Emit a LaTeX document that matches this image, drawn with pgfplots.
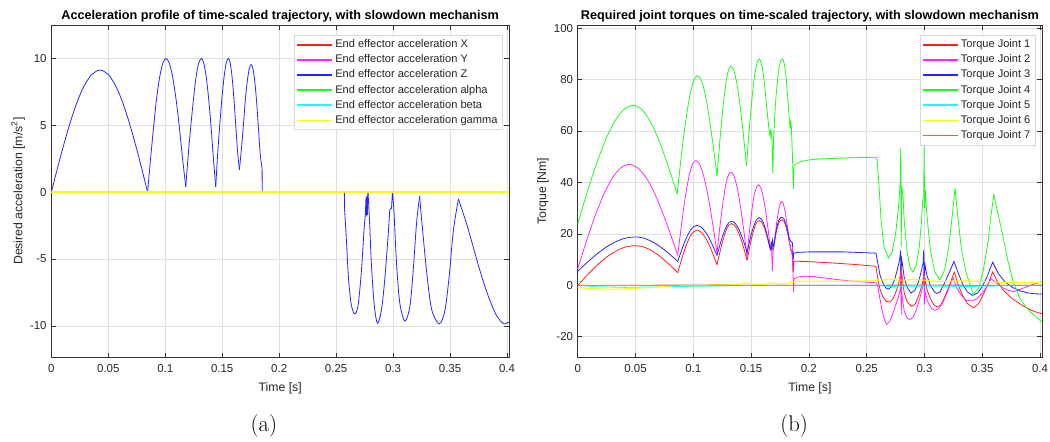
\documentclass[border=0pt]{standalone}
\usepackage{fontspec}
\usepackage{pgfplots}
\pgfplotsset{compat=1.18}
\newfontfamily\arial{Liberation Sans}
\definecolor{mred}{rgb}{1,0.12,0.12}
\definecolor{mmag}{rgb}{1,0.15,1}
\definecolor{mblue}{rgb}{0.15,0.15,1}
\definecolor{mgreen}{rgb}{0.1,1,0.1}
\definecolor{mcyan}{rgb}{0.1,1,1}
\definecolor{myellow}{rgb}{1,1,0}
\definecolor{mbrown}{rgb}{0.8,0.42,0.28}
\pgfplotsset{
  mstyle/.style={
    scale only axis,
    grid=major,
    grid style={black!12, line width=0.4pt},
    axis line style={black!80, line width=0.5pt},
    tick style={black!80, line width=0.5pt},
    major tick length=3.5pt,
    tick label style={font=\arial\fontsize{8.6}{10}\selectfont, text=black!85},
    label style={font=\arial\fontsize{9.2}{11}\selectfont, text=black!85},
    ylabel style={yshift=-3pt},
    title style={font=\arial\bfseries\fontsize{9.5}{11}\selectfont, yshift=-7pt},
    xtick={0,0.05,0.1,0.15,0.2,0.25,0.3,0.35,0.4},
    xticklabels={0,0.05,0.1,0.15,0.2,0.25,0.3,0.35,0.4},
    xticklabel style={yshift=-2pt},
    xlabel style={yshift=-0.5pt},
    legend style={at={(1,1)}, anchor=north east, xshift=-5pt, yshift=-7.5pt,
      draw=black!15, fill=white, inner sep=1.5pt,
      font=\arial\fontsize{8.3}{10}\selectfont, text=black!85,
      nodes={inner ysep=1.4pt, text height=6.5pt, text depth=2pt}},
    legend cell align=left,
    legend image code/.code={\draw[#1, line width=1pt] (0pt,0pt) -- (26pt,0pt);},
    every axis plot/.append style={line width=0.6pt},
  }
}
\begin{document}
\begin{tikzpicture}
\useasboundingbox (0,0) rectangle (787.5pt,331.5pt);
\begin{axis}[mstyle,
  at={(38.5pt,63.5pt)}, anchor=south west,
  width=343.3pt, height=249.2pt,
  xmin=0, xmax=0.4018, ymin=-12.35, ymax=12.5,
  ytick={-10,-5,0,5,10}, yticklabels={-10,-5,0,5,10},
  title={Acceleration profile of time-scaled trajectory, with slowdown mechanism},
  xlabel={Time [s]},
  ylabel={Desired acceleration [m/s\textsuperscript{2}]},
]
\addplot[mred] coordinates {(0,0) (0.4018,0)};
\addlegendentry{End effector acceleration X}
\addplot[mmag] coordinates {(0,0) (0.4018,0)};
\addlegendentry{End effector acceleration Y}
\addplot[mblue, smooth] coordinates {
(0,0) (0.0071,2.36) (0.0143,4.57) (0.0214,6.46) (0.0285,7.91) (0.0357,8.82) (0.0428,9.13) (0.0498,8.82) (0.0567,7.91) (0.0637,6.46) (0.0706,4.57) (0.0776,2.36) (0.0845,0)};
\addlegendentry{End effector acceleration Z}
\addplot[mblue, smooth, forget plot] coordinates {
(0.0845,0) (0.0872,2.59) (0.0899,5) (0.0925,7.07) (0.0952,8.66) (0.0979,9.66) (0.1006,10) (0.1035,9.66) (0.1064,8.66) (0.1093,7.07) (0.1122,5) (0.1151,2.59) (0.118,0.4)};
\addplot[mblue, smooth, forget plot] coordinates {
(0.118,0.4) (0.1203,2.9) (0.1226,5.1) (0.1249,7.07) (0.1271,8.66) (0.1294,9.66) (0.1317,10) (0.1338,9.66) (0.1359,8.66) (0.138,7.07) (0.1401,5) (0.1422,2.6) (0.1443,0.4)};
\addplot[mblue, smooth, forget plot] coordinates {
(0.1443,0.4) (0.1461,3) (0.148,5.2) (0.1498,7.1) (0.1517,8.66) (0.1535,9.66) (0.1554,10) (0.157,9.66) (0.1586,8.66) (0.1602,7.07) (0.1619,5) (0.1635,3) (0.1651,1.67)};
\addplot[mblue, smooth, forget plot] coordinates {
(0.1651,1.67) (0.1668,3.2) (0.1685,4.9) (0.1702,6.8) (0.172,8.3) (0.1737,9.22) (0.1754,9.55) (0.177,9.22) (0.1786,8.27) (0.1802,6.75) (0.1818,4.78) (0.1834,2.8) (0.185,1.8)};
\addplot[mblue, forget plot] coordinates {(0.185,1.8) (0.1851,0) (0.2572,0) (0.2574,-1.3)};
\addplot[mblue, smooth, forget plot] coordinates {
(0.2574,-1.3) (0.2589,-3.4) (0.2609,-6.5) (0.2633,-8.4) (0.2662,-9.1) (0.2692,-8.5) (0.2721,-6.0) (0.2745,-2.8) (0.2756,-1.7)};
\addplot[mblue, forget plot] coordinates {
(0.2756,-1.7) (0.2762,-0.4) (0.2766,-1.8) (0.2770,-0.3) (0.2774,-1.7) (0.2778,-0.2) (0.278,0)};
\addplot[mblue, smooth, forget plot] coordinates {
(0.278,0) (0.2795,-2.5) (0.2809,-5.3) (0.2833,-8.3) (0.2862,-9.8) (0.2898,-8.8) (0.2927,-6.5) (0.2956,-3.3) (0.2971,-1.3)};
\addplot[mblue, forget plot] coordinates {(0.2971,-1.3) (0.2986,-1.2) (0.2995,0.1) (0.3009,-1.6)};
\addplot[mblue, smooth, forget plot] coordinates {
(0.3009,-1.6) (0.303,-5.3) (0.3059,-8.3) (0.3104,-9.65) (0.3148,-8.5) (0.3177,-5.8) (0.3206,-2.3) (0.3233,-0.3)};
\addplot[mblue, smooth, forget plot] coordinates {
(0.3233,-0.3) (0.3251,-2.1) (0.3295,-6) (0.3339,-8.8) (0.3406,-9.85) (0.3456,-8.8) (0.3492,-6.3) (0.353,-2.8) (0.3574,-0.5)};
\addplot[mblue, smooth, forget plot] coordinates {
(0.3574,-0.5) (0.36,-1.2) (0.365,-2.5) (0.37,-4.0) (0.375,-5.5) (0.38,-6.9) (0.385,-8.1) (0.39,-9.1) (0.395,-9.7) (0.398,-9.85) (0.4018,-9.7)};
\addplot[mgreen] coordinates {(0,0) (0.4018,0)};
\addlegendentry{End effector acceleration alpha}
\addplot[mcyan] coordinates {(0,0) (0.4018,0)};
\addlegendentry{End effector acceleration beta}
\addplot[myellow, line width=1.1pt] coordinates {(0,0) (0.4018,0)};
\addlegendentry{End effector acceleration gamma}
\end{axis}
\node[font=\fontsize{17}{20}\selectfont] at (197.9pt,12.2pt) {(a)};
\begin{axis}[mstyle,
  at={(433.3pt,63.5pt)}, anchor=south west,
  width=348.2pt, height=249.2pt,
  xmin=0, xmax=0.4017, ymin=-28, ymax=101.2,
  ytick={-20,0,20,40,60,80,100}, yticklabels={-20,0,20,40,60,80,100},
  title={Required joint torques on time-scaled trajectory, with slowdown mechanism},
  xlabel={Time [s]},
  ylabel={Torque [Nm]},
]
% ---- Joint 1
\addplot[mred, smooth] coordinates {
(0,0) (0.0083,4) (0.0165,7.7) (0.0248,10.9) (0.0331,13.3) (0.0413,14.9) (0.0496,15.4)
(0.0558,15.05) (0.0619,14) (0.0681,12.3) (0.0742,10.15) (0.0804,7.6) (0.0865,4.9)};
\addlegendentry{Torque Joint 1}
\addplot[mred, smooth, forget plot] coordinates {
(0.0865,4.9) (0.0893,9.2) (0.092,13.15) (0.0948,16.6) (0.0975,19.2) (0.1003,20.8) (0.103,21.4)
(0.1059,20.95) (0.1088,19.6) (0.1118,17.5) (0.1147,14.7) (0.1176,11.5) (0.1205,8)};
\addplot[mred, smooth, forget plot] coordinates {
(0.1205,8) (0.1226,12.1) (0.1247,16) (0.1268,19.3) (0.1288,21.9) (0.1309,23.45) (0.133,24)
(0.1353,23.5) (0.1375,22.1) (0.1398,19.8) (0.142,16.85) (0.1443,13.4) (0.1465,9.7)};
\addplot[mred, smooth, forget plot] coordinates {
(0.1465,9.7) (0.1483,13.7) (0.15,17.45) (0.1518,20.7) (0.1535,23.1) (0.1553,24.7) (0.157,25.2)
(0.159,24.6) (0.1609,23) (0.1629,20.4) (0.1648,17.1) (0.1668,13.5)};
\addplot[mred, forget plot] coordinates {(0.1668,13.5) (0.1675,16) (0.168,14) (0.1695,14.5)};
\addplot[mred, smooth, forget plot] coordinates {
(0.1695,14.5) (0.171,18.8) (0.1725,22.2) (0.174,24.3) (0.1755,25.3) (0.177,25.5) (0.1785,24.8) (0.18,23) (0.1815,20.3) (0.183,17) (0.1845,14)};
\addplot[mred, forget plot] coordinates {
(0.1845,14) (0.1858,13) (0.1865,5) (0.187,9.4)
(0.2,9.2) (0.22,8.7) (0.24,8.1) (0.258,7.4)
(0.2595,3) (0.2615,-1.5) (0.264,-4.5) (0.267,-6.2) (0.2696,-6.5) (0.2725,-5.5) (0.275,-3) (0.2775,0.5) (0.279,3.5) (0.2795,8) (0.2799,-3) (0.2803,5) (0.281,2) (0.2825,-3) (0.285,-6.5) (0.289,-8.2)
(0.292,-7.2) (0.295,-4) (0.2975,-0.5) (0.299,2.5) (0.2995,5.5) (0.2999,-3) (0.3005,3) (0.302,-1.5) (0.305,-5) (0.308,-7.5) (0.311,-8.4) (0.314,-7.8) (0.318,-4) (0.322,0.5) (0.3258,5.2)
(0.329,0.5) (0.333,-4) (0.337,-7) (0.3425,-8.8) (0.347,-7) (0.351,-3.5) (0.355,0.5) (0.359,5.2) (0.363,1.5) (0.368,-1.8) (0.376,-5.2) (0.386,-8.2) (0.395,-10.2) (0.4017,-11)};
% ---- Joint 2
\addplot[mmag, smooth] coordinates {
(0,6.5) (0.0074,17) (0.0148,26.75) (0.0223,35.1) (0.0297,41.6) (0.0371,45.6) (0.0445,47)
(0.0515,45.8) (0.0585,42.3) (0.0655,36.7) (0.0725,29.35) (0.0795,20.8) (0.0865,11.7)};
\addlegendentry{Torque Joint 2}
\addplot[mmag, smooth, forget plot] coordinates {
(0.0865,11.7) (0.0891,21.2) (0.0917,30.1) (0.0943,37.7) (0.0969,43.6) (0.0995,47.2) (0.1021,48.5)
(0.1052,47.3) (0.1082,43.7) (0.1113,38) (0.1144,30.6) (0.1174,22) (0.1205,12.7)};
\addplot[mmag, smooth, forget plot] coordinates {
(0.1205,12.7) (0.1225,20.8) (0.1245,28.35) (0.1265,34.8) (0.1284,39.8) (0.1304,42.9) (0.1324,44)
(0.1348,42.9) (0.1371,39.6) (0.1395,34.3) (0.1418,27.5) (0.1442,19.5) (0.1465,11)};
\addplot[mmag, smooth, forget plot] coordinates {
(0.1465,11) (0.1479,18.3) (0.1496,25) (0.1512,30.9) (0.1528,35.3) (0.1547,38.1) (0.1563,39.1)
(0.1584,37.9) (0.1605,34.3) (0.1626,28.8) (0.1647,21.8) (0.1668,14)};
\addplot[mmag, forget plot] coordinates {(0.1668,14) (0.1678,13) (0.1685,5.5) (0.169,13) (0.1695,14.5)};
\addplot[mmag, smooth, forget plot] coordinates {
(0.1695,14.5) (0.171,20) (0.1725,25.5) (0.174,29.5) (0.1752,31.8) (0.1765,32.6) (0.178,31.5) (0.1795,28.5) (0.181,24) (0.1825,19) (0.184,14)};
\addplot[mmag, forget plot] coordinates {
(0.184,14) (0.1855,12) (0.1862,5) (0.1868,-2.6) (0.1872,2.5)
(0.19,3.2) (0.196,3.6) (0.205,3.3) (0.215,2.8) (0.225,2.2) (0.24,1.5) (0.258,1.0)
(0.2595,0) (0.261,-4) (0.263,-9) (0.265,-13) (0.2673,-15.2) (0.27,-14) (0.273,-10.5) (0.276,-6.5) (0.278,-3.5) (0.2792,-1) (0.2796,6) (0.2799,-11.7) (0.2803,-2) (0.2808,-5) (0.2825,-10) (0.285,-12.8) (0.2875,-13.3)
(0.29,-12.5) (0.293,-9.5) (0.296,-5) (0.298,-1.5) (0.2993,1) (0.2996,7) (0.2999,-7.5) (0.3003,-2) (0.301,-3.5) (0.303,-6.5) (0.306,-9) (0.3092,-9.7) (0.3125,-9) (0.316,-6.5) (0.32,-2.5) (0.3247,3)
(0.328,-1) (0.332,-4) (0.336,-5.8) (0.341,-6.1) (0.346,-5) (0.35,-3) (0.354,-0.5) (0.3576,2.6) (0.362,1) (0.367,-0.8) (0.372,-1.8) (0.377,-2.5) (0.383,-1.5) (0.39,-0.3) (0.396,0.7) (0.4017,1.3)};
% ---- Joint 3
\addplot[mblue, smooth] coordinates {
(0,5.5) (0.0083,8.95) (0.0165,12.15) (0.0248,14.9) (0.0331,17) (0.0413,18.35) (0.0496,18.8)
(0.0558,18.5) (0.0619,17.5) (0.0681,16) (0.0742,14.05) (0.0804,11.75) (0.0865,9.3)};
\addlegendentry{Torque Joint 3}
\addplot[mblue, smooth, forget plot] coordinates {
(0.0865,9.3) (0.0893,12.9) (0.092,16.3) (0.0948,19.2) (0.0975,21.4) (0.1003,22.8) (0.103,23.3)
(0.1059,22.9) (0.1088,21.7) (0.1118,19.9) (0.1147,17.45) (0.1176,14.6) (0.1205,11.6)};
\addplot[mblue, smooth, forget plot] coordinates {
(0.1205,11.6) (0.1226,15.05) (0.1247,18.25) (0.1268,21) (0.1288,23.1) (0.1309,24.45) (0.133,24.9)
(0.1353,24.5) (0.1375,23.3) (0.1398,21.4) (0.142,18.9) (0.1443,16) (0.1465,12.9)};
\addplot[mblue, smooth, forget plot] coordinates {
(0.1465,12.9) (0.1483,16.4) (0.15,19.6) (0.1518,22.4) (0.1535,24.5) (0.1553,25.8) (0.157,26.3)
(0.159,25.7) (0.1609,24) (0.1629,21.2) (0.1648,17.8) (0.1668,14)};
\addplot[mblue, forget plot] coordinates {(0.1668,14) (0.1675,17) (0.168,13.5) (0.1686,17.5) (0.1695,15)};
\addplot[mblue, smooth, forget plot] coordinates {
(0.1695,15) (0.171,19.5) (0.1725,23) (0.174,25.3) (0.1755,26.3) (0.177,26.5) (0.1785,25.8) (0.18,24) (0.1815,21.5) (0.183,18.5) (0.1845,17)};
\addplot[mblue, forget plot] coordinates {
(0.1845,17) (0.1858,16.5) (0.1865,10) (0.187,12.5)
(0.19,12.8) (0.2,13) (0.23,13) (0.258,12.5)
(0.2595,9) (0.2615,4) (0.264,1) (0.2665,-1) (0.2688,-1.5) (0.2715,-0.5) (0.274,2) (0.2765,6) (0.2785,10) (0.2793,13.6) (0.2797,5) (0.2803,10) (0.281,8) (0.2825,3) (0.285,-0.8) (0.2884,-3)
(0.292,-1.8) (0.295,1.5) (0.2975,6) (0.2988,8.5) (0.2994,13.9) (0.2998,4) (0.3005,8) (0.302,4) (0.305,0) (0.3085,-2.5) (0.3106,-3.2) (0.3135,-2.5) (0.317,0.5) (0.3215,5) (0.3255,9.3)
(0.329,5) (0.333,0.5) (0.337,-2.5) (0.3415,-3.9) (0.346,-3) (0.35,-0.5) (0.354,3.2) (0.359,9) (0.364,4.5) (0.37,1.2) (0.376,-0.8) (0.383,-2.2) (0.39,-3.0) (0.396,-3.3) (0.4017,-3.4)};
% ---- Joint 4
\addplot[mgreen, smooth] coordinates {
(0,24) (0.008,35.9) (0.016,47) (0.024,56.5) (0.032,63.8) (0.040,68.4) (0.048,70)
(0.056,68.1) (0.064,62.7) (0.072,54.3) (0.080,44) (0.086,35.5)};
\addlegendentry{Torque Joint 4}
\addplot[mgreen, smooth, forget plot] coordinates {
(0.086,35.5) (0.0889,47.4) (0.0918,58.5) (0.0948,68.0) (0.0977,75.3) (0.1006,79.9) (0.1035,81.5)
(0.1063,80.2) (0.1092,76.3) (0.112,70.1) (0.1148,62) (0.1177,52.6) (0.1205,42.5)};
\addplot[mgreen, smooth, forget plot] coordinates {
(0.1205,42.5) (0.1225,53.6) (0.1245,63.85) (0.1265,72.7) (0.1285,79.5) (0.1305,83.7) (0.1325,85.2)
(0.1348,83.9) (0.137,80) (0.1393,73.9) (0.1415,65.9) (0.1438,56.5) (0.146,46.5)};
\addplot[mgreen, smooth, forget plot] coordinates {
(0.146,46.5) (0.1478,57.2) (0.1497,67.3) (0.1515,75.8) (0.1533,82.4) (0.1552,86.6) (0.157,88)
(0.1587,86.6) (0.1604,82.5) (0.1621,76) (0.1638,68) (0.1655,60.5)};
\addplot[mgreen, forget plot] coordinates {(0.1655,60.5) (0.1665,58) (0.1672,61) (0.1682,55) (0.1688,43.5) (0.1695,58)};
\addplot[mgreen, smooth, forget plot] coordinates {
(0.1695,58) (0.171,70) (0.1725,78) (0.174,84) (0.1755,87.2) (0.177,88) (0.1785,86.5) (0.18,82) (0.1815,74) (0.183,65) (0.1838,61)};
\addplot[mgreen, forget plot] coordinates {(0.1838,61) (0.1842,64) (0.1848,62) (0.1858,50) (0.1866,37.5) (0.1872,46.5)};
\addplot[mgreen, smooth, forget plot] coordinates {(0.1872,46.5) (0.19,47.5) (0.195,48.3) (0.205,49) (0.23,49.5) (0.258,49.8)};
\addplot[mgreen, forget plot] coordinates {
(0.258,49.8) (0.259,49) (0.2605,40) (0.2625,25) (0.265,15) (0.2688,10.6) (0.272,13) (0.275,20) (0.2775,30) (0.279,40) (0.2795,53.5) (0.2799,15) (0.2803,38) (0.2812,37) (0.2825,25) (0.285,13) (0.2875,7) (0.29,5.2)
(0.293,8) (0.2955,15) (0.2975,25) (0.2985,33.5) (0.2993,34) (0.2997,54) (0.3001,30) (0.3007,37) (0.302,28) (0.305,14) (0.309,5) (0.3135,2.2)
(0.3175,6) (0.321,15) (0.324,27) (0.3265,37.8) (0.329,26) (0.332,14) (0.336,5) (0.3423,-3.6) (0.347,-1) (0.351,6) (0.355,17) (0.3575,27) (0.36,35.2)
(0.3635,28) (0.367,21) (0.372,10) (0.377,1) (0.382,-4.5) (0.387,-8) (0.392,-10.5) (0.397,-12.5) (0.4017,-14.2)};
% ---- Joint 5
\addplot[mcyan] coordinates {
(0,0) (0.015,-0.5) (0.04,-0.8) (0.07,-0.6) (0.1,-0.4) (0.13,-0.2) (0.16,0) (0.186,0) (0.26,0) (0.27,-0.5) (0.3,-0.6) (0.33,-0.5) (0.36,-0.3) (0.38,0) (0.4017,0)};
\addlegendentry{Torque Joint 5}
% ---- Joint 6
\addplot[myellow, line width=0.8pt] coordinates {
(0,-0.9) (0.01,-1.2) (0.02,-1.4) (0.03,-1.5) (0.045,-1.3) (0.06,-0.9) (0.075,-0.4) (0.086,0) (0.1,-0.2) (0.115,0.1) (0.12,0.6) (0.125,0.1) (0.14,0.3) (0.146,1) (0.152,0.3) (0.162,0.4) (0.168,1) (0.174,0.5) (0.18,0.6) (0.186,1.2)
(0.19,1.6) (0.22,1.6) (0.255,1.7) (0.265,2.2) (0.272,2.5) (0.28,2.0) (0.29,2.3) (0.30,2.0) (0.31,1.5) (0.32,1.6) (0.335,1.8) (0.35,1.5) (0.37,1.1) (0.385,1.0) (0.4017,1.0)};
\addlegendentry{Torque Joint 6}
% ---- Joint 7
\addplot[mbrown] coordinates {(0,0) (0.1,0.1) (0.2,0) (0.3,0.1) (0.4017,0)};
\addlegendentry{Torque Joint 7}
\end{axis}
\node[font=\fontsize{17}{20}\selectfont] at (595.6pt,12.2pt) {(b)};
\end{tikzpicture}
\end{document}
